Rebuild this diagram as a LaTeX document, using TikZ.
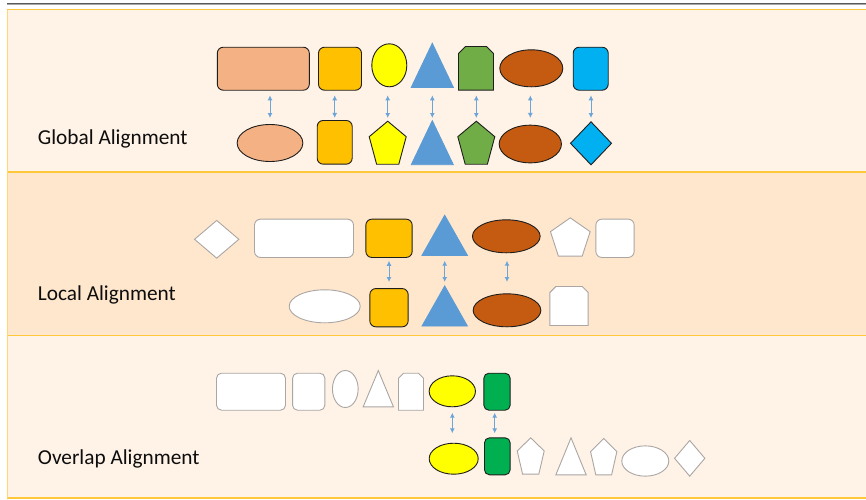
\documentclass[tikz,border=0pt]{standalone}
\usepackage{fontspec}
\setmainfont{Carlito}
\usetikzlibrary{shapes.geometric,arrows.meta,calc}

\definecolor{bandlight}{HTML}{FFF2E6}
\definecolor{banddark}{HTML}{FFE7CD}
\definecolor{gold}{HTML}{FFC83A}
\definecolor{salmon}{HTML}{F4B183}
\definecolor{amber}{HTML}{FFC000}
\definecolor{lemon}{HTML}{FFFF00}
\definecolor{steel}{HTML}{5B9BD5}
\definecolor{leaf}{HTML}{70AD47}
\definecolor{rust}{HTML}{C55A11}
\definecolor{sky}{HTML}{00B0F0}
\definecolor{emerald}{HTML}{00B050}
\definecolor{ghost}{HTML}{AAA6A4}
\definecolor{edge}{HTML}{1E1E1E}

\begin{document}
\begin{tikzpicture}[x=1pt,y=-1pt,>={Latex[length=5pt,width=5pt]},
  wh/.style 2 args={minimum width=#1pt,minimum height=#2pt}]
  \tikzstyle{shp}=[inner sep=0pt,outer sep=0pt,line width=0.9pt,draw=edge]
  \tikzstyle{rbox}=[shp,rectangle,rounded corners=6pt]
  \tikzstyle{oval}=[shp,ellipse]
  \tikzstyle{dia}=[shp,diamond]
  \tikzstyle{slot}=[inner sep=0pt,outer sep=0pt]
  \tikzstyle{blank}=[fill=white,draw=ghost]
  \tikzstyle{link}=[<->,line width=1pt,draw=steel!90,fill=steel!90]
  \tikzstyle{title}=[font=\fontsize{21.3}{25}\selectfont,text=black!95,anchor=base west,inner sep=0pt]

  \useasboundingbox (0,0) rectangle (866,499);

  % background bands
  \fill[bandlight] (7,9.5) rectangle (866,172);
  \fill[banddark] (7,172) rectangle (866,335.3);
  \fill[bandlight] (7,335.3) rectangle (866,498);
  \draw[gold,line width=1.2pt] (866,9.5) -- (7,9.5);
  \draw[gold,line width=1.2pt] (7,172) -- (866,172);
  \draw[gold,line width=1.2pt] (7,335.3) -- (866,335.3);
  \draw[gold,line width=1.2pt] (7,498) -- (866,498);
  \draw[gold!70,line width=0.8pt] (7,9.5) -- (7,498);
  \draw[black!65,line width=0.8pt] (7,3.2) -- (866,3.2);
  \draw[black!35,line width=0.8pt] (7,4.3) -- (866,4.3);

  \node[title] (glob) at (37.7,144.3) {Global Alignment};
  \node[title] (loc) at (37.7,300.7) {Local Alignment};
  \node[title] (ovl) at (37.7,464.3) {Overlap Alignment};

  % global: top row
  \node[rbox,fill=salmon,wh={92}{43}] (A1) at (263.3,68.7) {};
  \node[rbox,fill=amber,wh={43}{43}] (A2) at (340,68.7) {};
  \node[oval,fill=lemon,wh={35}{43}] (A3) at (389.3,65.3) {};
  \node[slot,wh={42}{44}] (A4) at (432.3,65.3) {};
  \node[slot,wh={35}{43.7}] (A5) at (476,68.3) {};
  \node[oval,fill=rust,wh={63}{37}] (A6) at (531.3,68.3) {};
  \node[rbox,fill=sky,wh={35}{43}] (A7) at (590.7,68.7) {};
  % global: bottom row
  \node[oval,fill=salmon,wh={65.7}{37}] (B1) at (270,143) {};
  \node[rbox,fill=amber,wh={35}{43.7}] (B2) at (334.7,142.3) {};
  \node[slot,wh={37}{43}] (B3) at (387.7,142.7) {};
  \node[slot,wh={42}{44}] (B4) at (432.3,142.7) {};
  \node[slot,wh={37}{43}] (B5) at (476.3,142.7) {};
  \node[oval,fill=rust,wh={62.3}{37.7}] (B6) at (530.3,144) {};
  \node[dia,fill=sky,wh={41}{43}] (B7) at (591,143.3) {};

  % local: top row
  \node[dia,blank,wh={44.3}{37.7}] (C1) at (216.7,239.3) {};
  \node[rbox,blank,wh={99}{38.3}] (C2) at (304,238.3) {};
  \node[rbox,fill=amber,wh={46.3}{38.3}] (C3) at (389,238.3) {};
  \node[slot,wh={45.3}{40}] (C4) at (444.7,235.3) {};
  \node[oval,fill=rust,wh={67.7}{33}] (C5) at (506.3,236.3) {};
  \node[slot,wh={39.7}{38.3}] (C6) at (570.3,237) {};
  \node[rbox,blank,wh={38.3}{38.3}] (C7) at (615,238.3) {};
  % local: bottom row
  \node[oval,blank,wh={71}{33}] (D1) at (324.7,306.3) {};
  \node[rbox,fill=amber,wh={38.3}{38.3}] (D2) at (389,307.7) {};
  \node[slot,wh={45.3}{40}] (D3) at (444.7,306) {};
  \node[oval,fill=rust,wh={67.7}{33}] (D4) at (507,310.3) {};
  \node[slot,wh={38.3}{39}] (D5) at (569,306) {};

  % overlap: top row
  \node[rbox,blank,rounded corners=5pt,wh={69}{37}] (E1) at (251,391.7) {};
  \node[rbox,blank,rounded corners=5pt,wh={32.3}{37}] (E2) at (308.7,391.7) {};
  \node[oval,blank,wh={25.7}{37}] (E3) at (345.3,389) {};
  \node[slot,wh={30.3}{36.3}] (E4) at (378.3,388.7) {};
  \node[slot,wh={25}{37}] (E5) at (411,391.7) {};
  \node[oval,fill=lemon,wh={46.3}{31}] (E6) at (452.3,391.3) {};
  \node[rbox,fill=emerald,rounded corners=5pt,wh={26.3}{37}] (E7) at (497,391.7) {};
  % overlap: bottom row
  \node[oval,fill=lemon,wh={49}{31}] (F1) at (453.7,458.7) {};
  \node[rbox,fill=emerald,rounded corners=5pt,wh={25.7}{37}] (F2) at (497.3,456.3) {};
  \node[slot,wh={27}{36.3}] (F3) at (530.7,456) {};
  \node[slot,wh={30.3}{37}] (F4) at (571,456.3) {};
  \node[slot,wh={26.3}{36.3}] (F5) at (603.7,456.7) {};
  \node[oval,blank,wh={47}{30.3}] (F6) at (645.3,461) {};
  \node[dia,blank,wh={30.3}{35.7}] (F7) at (689.7,458.3) {};

  % triangles, pentagons and snipped boxes
  \foreach \n/\f/\d in {A4/steel/steel,B4/steel/steel,C4/steel/steel,D3/steel/steel,E4/white/ghost,F4/white/ghost}
    \filldraw[fill=\f,draw=\d,line width=0.9pt] (\n.south west) -- (\n.north) -- (\n.south east) -- cycle;
  \foreach \n/\f/\d in {B3/lemon/edge,B5/leaf/edge,C6/white/ghost,F3/white/ghost,F5/white/ghost}
    \filldraw[fill=\f,draw=\d,line width=0.9pt] (\n.north)
      -- ($(\n.south west)!0.64!(\n.north west)$) -- ($(\n.south west)!0.2!(\n.south east)$)
      -- ($(\n.south west)!0.8!(\n.south east)$) -- ($(\n.south east)!0.64!(\n.north east)$) -- cycle;
  \foreach \n/\f/\d/\c in {A5/leaf/edge/7,D5/white/ghost/6,E5/white/ghost/5}
    \filldraw[fill=\f,draw=\d,line width=0.9pt] (\n.south west) -- ([yshift=-\c pt]\n.north west)
      -- ([xshift=\c pt]\n.north west) -- ([xshift=-\c pt]\n.north east)
      -- ([yshift=-\c pt]\n.north east) -- (\n.south east) -- cycle;

  % matches
  \draw[link,shorten <=5.1pt,shorten >=6.5pt] (B1.north |- A1.south) -- (B1.north);
  \draw[link,shorten <=5.1pt,shorten >=2.5pt] (B2.north |- A2.south) -- (B2.north);
  \draw[link,shorten <=8.5pt,shorten >=3.2pt] (B3.north |- A3.south) -- (B3.north);
  \draw[link,shorten <=8pt,shorten >=2.7pt] (B4.north |- A4.south) -- (B4.north);
  \draw[link,shorten <=5.2pt,shorten >=3.2pt] (B5.north |- A5.south) -- (B5.north);
  \draw[link,shorten <=8.5pt,shorten >=7.2pt] (B6.north |- A6.south) -- (B6.north);
  \draw[link,shorten <=5.1pt,shorten >=3.8pt] (B7.north |- A7.south) -- (B7.north);

  \draw[link,shorten <=3.3pt,shorten >=6.5pt] (D2.north |- C3.south) -- (D2.north);
  \draw[link,shorten <=5.4pt,shorten >=4pt] (D3.north |- C4.south) -- (D3.north);
  \draw[link,shorten <=7.9pt,shorten >=11.8pt] (D4.north |- C5.south) -- (D4.north);

  \draw[link,shorten <=5.9pt,shorten >=9.9pt] (E6.south) -- (E6.south |- F1.north);
  \draw[link,shorten <=2.5pt,shorten >=4.5pt] ([xshift=-2.3pt]E7.south) -- ([xshift=-2.3pt]E7.south |- F2.north);
\end{tikzpicture}
\end{document}
